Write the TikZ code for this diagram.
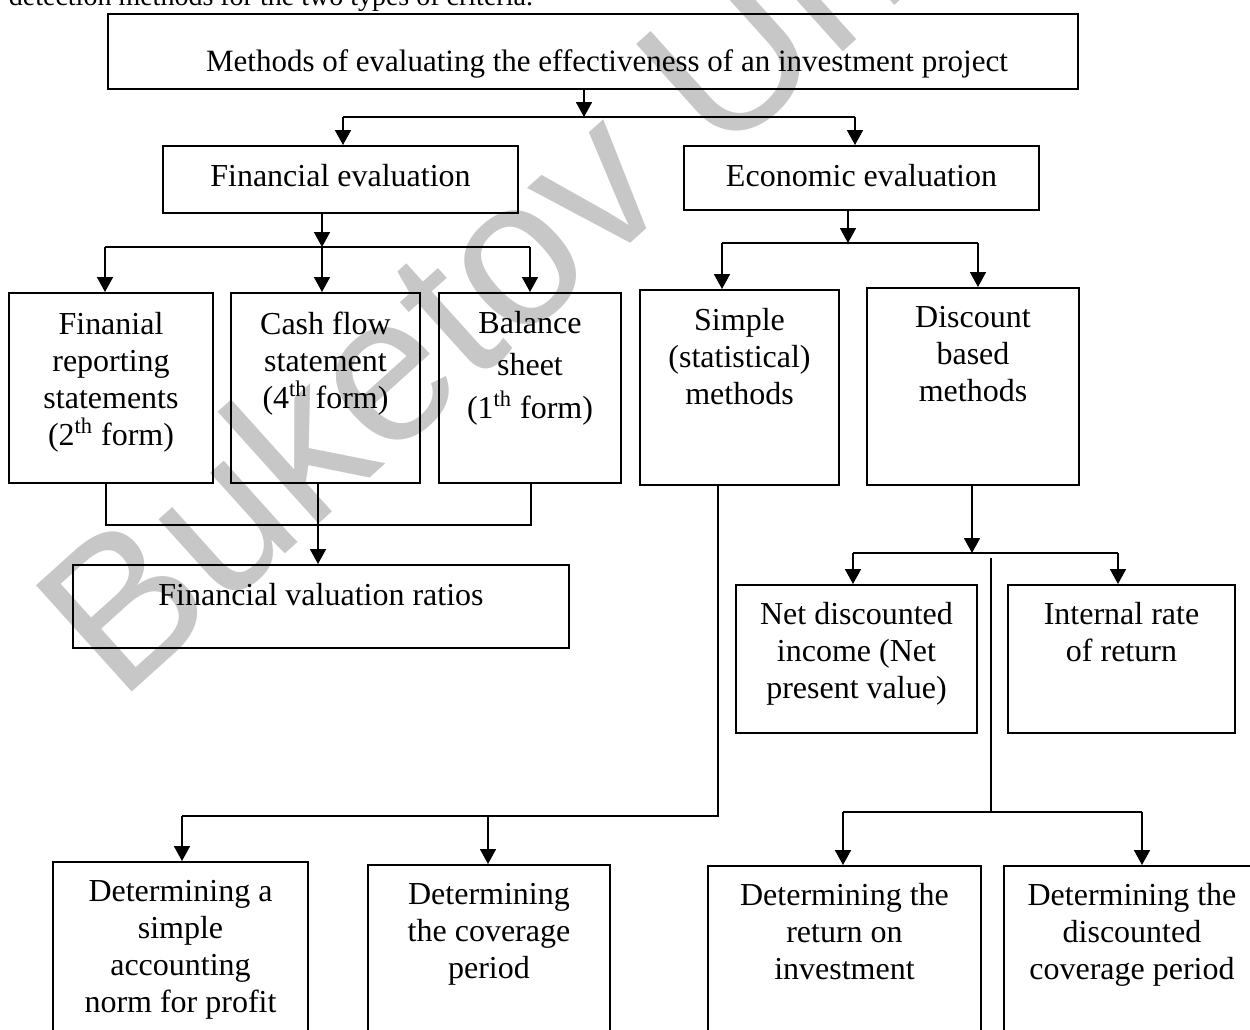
\documentclass[tikz,border=0pt]{standalone}
\usepackage{fontspec}
\setmainfont{Liberation Serif}
\newfontfamily\wmfont{Liberation Sans}
\usetikzlibrary{arrows.meta}

% box text: width, height, first line offset (all in px), text
\newcommand{\bt}[4]{\parbox[c][\dimexpr #2pt/2\relax][t]{\dimexpr #1pt/2\relax}{\centering\vspace*{\dimexpr #3pt/2-8.15pt\relax}\strut #4}}

\begin{document}
\begin{tikzpicture}[x=0.5pt,y=-0.5pt,
  box/.style={draw,line width=1pt,inner sep=0pt,font=\fontsize{16}{18.5}\selectfont},
  conn/.style={line width=0.9pt},
  arr/.style={conn,-{Triangle[width=8pt,length=7.5pt]}}]
\useasboundingbox (0,0) rectangle (1250,1030);
\clip (0,0) rectangle (1250,1030);
\node[rotate=42,anchor=base west,text=black!22,font=\wmfont\fontsize{104}{110}\selectfont] (mark) at (114,708) {Buketov Uni};
\node[anchor=base east,font=\fontsize{14}{16}\selectfont] (caption) at (540,5) {detection methods for the two types of criteria.};

\node[box,font=\fontsize{15.5}{18.5}\selectfont] (top) at (593,51.5) {\bt{970}{75}{48}{\hspace*{14pt}Methods of evaluating the effectiveness of an investment project}};
\node[box] (fin) at (340.5,179.5) {\bt{355}{67}{31}{Financial evaluation}};
\node[box] (eco) at (861.5,178) {\bt{355}{64}{31}{Economic evaluation}};
\node[box] (rep) at (111,388) {\bt{204}{190}{32}{Finanial\\reporting\\statements\\(2\textsuperscript{th} form)}};
\node[box] (cash) at (325.5,388) {\bt{189}{190}{32}{Cash flow\\statement\\(4\textsuperscript{th} form)}};
\node[box] (bal) at (530,388) {\bt{182}{190}{31}{Balance\\[2.5pt]sheet\\[3pt](1\textsuperscript{th} form)}};
\node[box] (ratio) at (321,606.5) {\bt{496}{83}{31}{Financial valuation ratios}};
\node[box] (simp) at (739.5,387.5) {\bt{199}{195}{31}{Simple\\(statistical)\\methods}};
\node[box] (disc) at (973,386.5) {\bt{212}{197}{30}{Discount\\based\\methods}};
\node[box] (npv) at (856.5,659) {\bt{241}{148}{30}{Net discounted\\income (Net\\present value)}};
\node[box] (irr) at (1121.5,659) {\bt{227}{148}{30}{Internal rate\\of return}};
\node[box] (norm) at (180.5,982) {\bt{255}{240}{30}{Determining a\\simple\\accounting\\norm for profit}};
\node[box] (cov) at (489,985) {\bt{242}{240}{30}{Determining\\the coverage\\period}};
\node[box] (roi) at (844.5,986) {\bt{273}{240}{30}{Determining the\\return on\\investment}};
\node[box] (dcov) at (1132,986) {\bt{256}{240}{30}{Determining the\\discounted\\coverage period}};

\coordinate (t1) at (584,117);
\coordinate (t1l) at (343,117);
\coordinate (t1r) at (855,117);
\draw[arr] (top.south -| t1) -- (t1);
\draw[conn] (t1l) -- (t1r);
\draw[arr] (t1l) -- (fin.north -| t1l);
\draw[arr] (t1r) -- (eco.north -| t1r);

\coordinate (f1) at (322,247);
\coordinate (f1l) at (105,247);
\coordinate (f1r) at (530,247);
\draw[arr] (fin.south -| f1) -- (f1);
\draw[conn] (f1l) -- (f1r);
\draw[arr] (f1l) -- (rep.north -| f1l);
\draw[arr] (f1) -- (cash.north -| f1);
\draw[arr] (f1r) -- (bal.north -| f1r);

\coordinate (f2) at (318,525);
\coordinate (f2l) at (106,525);
\coordinate (f2r) at (531,525);
\draw[conn] (rep.south -| f2l) -- (f2l) -- (f2r) -- (bal.south -| f2r);
\draw[arr] (cash.south -| f2) -- (ratio.north -| f2);

\coordinate (e1) at (848,243);
\coordinate (e1l) at (722,243);
\coordinate (e1r) at (978,243);
\draw[arr] (eco.south -| e1) -- (e1);
\draw[conn] (e1l) -- (e1r);
\draw[arr] (e1l) -- (simp.north -| e1l);
\draw[arr] (e1r) -- (disc.north -| e1r);

\coordinate (s1) at (718,816);
\coordinate (s1l) at (182,816);
\coordinate (s1m) at (488,816);
\draw[conn] (simp.south -| s1) -- (s1) -- (s1l);
\draw[arr] (s1l) -- (norm.north -| s1l);
\draw[arr] (s1m) -- (cov.north -| s1m);

\coordinate (d1) at (972,553);
\coordinate (d1l) at (853,553);
\coordinate (d1r) at (1118,553);
\draw[arr] (disc.south -| d1) -- (d1);
\draw[conn] (d1l) -- (d1r);
\draw[arr] (d1l) -- (npv.north -| d1l);
\draw[arr] (d1r) -- (irr.north -| d1r);

\coordinate (d2a) at (991,558);
\coordinate (d2) at (991,812);
\coordinate (d2l) at (843,812);
\coordinate (d2r) at (1142,812);
\draw[conn] (d2a) -- (d2);
\draw[conn] (d2l) -- (d2r);
\draw[arr] (d2l) -- (roi.north -| d2l);
\draw[arr] (d2r) -- (dcov.north -| d2r);
\end{tikzpicture}
\end{document}
